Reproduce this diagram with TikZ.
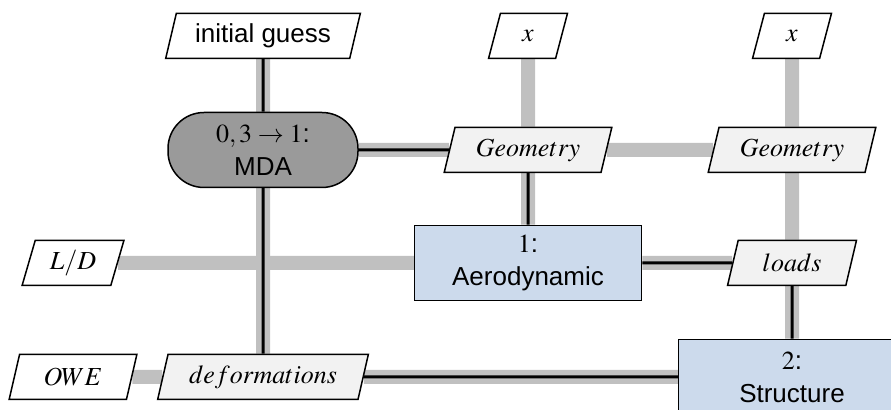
\documentclass[tikz,border=0pt]{standalone}
\usepackage{mathptmx}
\usepackage{fontspec}
\setmainfont{Liberation Serif}
\setsansfont{Liberation Sans}
\usetikzlibrary{shapes.geometric,backgrounds}

\definecolor{datagray}{HTML}{C0C0C0}
\definecolor{ioinput}{HTML}{FFFFFF}
\definecolor{iodata}{HTML}{F2F2F2}
\definecolor{mdagray}{HTML}{9A9A9A}
\definecolor{discblue}{HTML}{CCDAEC}

\newcommand{\labelsize}{\fontsize{13}{16.5}\selectfont}

\tikzset{
  datalink/.style={line width=7pt, draw=datagray},
  proclink/.style={line width=1.5pt, draw=black},
  iobox/.style={trapezium, trapezium left angle=70, trapezium right angle=110,
    trapezium stretches=true, draw, line width=0.75pt, minimum height=22.5pt,
    inner xsep=2pt, inner ysep=0pt, fill=ioinput, font=\labelsize},
  databox/.style={iobox, fill=iodata},
  discbox/.style={rectangle, draw, line width=0.75pt, fill=discblue,
    minimum width=113.5pt, minimum height=37.5pt, align=center,
    inner sep=0pt, font=\labelsize\sffamily},
  mdabox/.style={rectangle, rounded corners=18pt, draw, line width=0.75pt,
    fill=mdagray, minimum width=95pt, minimum height=37.5pt, align=center,
    inner sep=0pt, font=\labelsize\sffamily},
}

\begin{document}
\begin{tikzpicture}[x=0.5pt, y=-0.5pt]
\useasboundingbox (0,0) rectangle (891,410);

% inputs on the top row
\node[iobox, minimum width=98pt, font=\labelsize\sffamily] (ig) at (263,36) {initial guess};
\node[iobox, minimum width=39.5pt] (xa) at (528,36) {$x$};
\node[iobox, minimum width=39.5pt] (xb) at (792,36) {$x$};

% driver and geometry row
\node[mdabox] (mda) at (263,150) {$0,3 \rightarrow 1$:\\MDA};
\node[databox, minimum width=84pt] (geoa) at (528,150) {$Geometry$};
\node[databox, minimum width=84pt] (geob) at (792,150) {$Geometry$};

% aerodynamics row
\node[iobox, minimum width=51pt] (ld) at (73,263) {$L/D$};
\node[discbox] (aero) at (528,263) {$1$:\\Aerodynamic};
\node[databox, minimum width=64.5pt] (loads) at (792,263) {$loads$};

% structures row
\node[iobox, minimum width=64pt] (owe) at (73,377) {$OWE$};
\node[databox, minimum width=106pt] (defo) at (263,377) {$deformations$};
\node[discbox] (struct) at (792,377) {$2$:\\Structure};

\begin{scope}[on background layer]
  % data connections
  \draw[datalink] (ig) -- (defo);
  \draw[datalink] (xa) -- (geoa);
  \draw[datalink] (xb) -- (geob);
  \draw[datalink] (mda) -- (geoa);
  \draw[datalink] (geoa) -- (geob);
  \draw[datalink] (geoa) -- (aero);
  \draw[datalink] (geob) -- (loads);
  \draw[datalink] (ld) -- (aero);
  \draw[datalink] (aero) -- (loads);
  \draw[datalink] (loads) -- (struct);
  \draw[datalink] (owe) -- (defo);
  \draw[datalink] (defo) -- (struct);
  % process flow
  \draw[proclink] (ig) -- (mda);
  \draw[proclink] (mda) -- (defo);
  \draw[proclink] (mda) -- (geoa);
  \draw[proclink] (geoa) -- (aero);
  \draw[proclink] (aero) -- (loads);
  \draw[proclink] (loads) -- (struct);
  \draw[proclink] (defo) -- (struct);
\end{scope}
\end{tikzpicture}
\end{document}
